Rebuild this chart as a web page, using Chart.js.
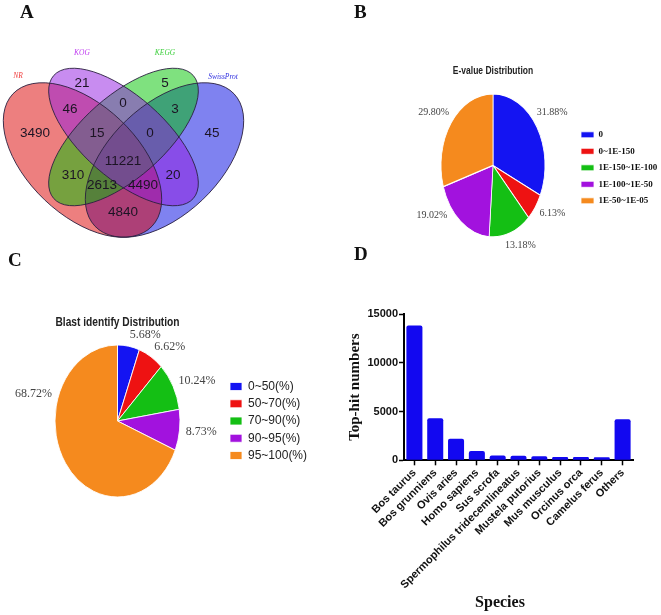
<!DOCTYPE html>
<html>
<head>
<meta charset="utf-8">
<script src="https://cdn.jsdelivr.net/npm/chart.js@4.4.1/dist/chart.umd.min.js"></script>
<style>
body { margin: 0; background: #fff; overflow: hidden; }
#fig { position: relative; width: 661px; height: 615px; overflow: hidden; }
#fig canvas { position: absolute; }
.tag { position: absolute; font: bold 19px "Liberation Serif", "Times New Roman", serif; line-height: 19px; color: #111; }
</style>
</head>
<body>
<div id="fig">
  <canvas id="venn" width="260" height="250" style="left:0;top:0"></canvas>
  <canvas id="evalue" width="360" height="290" style="left:330px;top:0"></canvas>
  <canvas id="ident" width="340" height="270" style="left:0;top:290px"></canvas>
  <canvas id="species" width="340" height="325" style="left:330px;top:290px"></canvas>
  <div class="tag" style="left:20px;top:2px">A</div>
  <div class="tag" style="left:354px;top:2px">B</div>
  <div class="tag" style="left:8px;top:250px">C</div>
  <div class="tag" style="left:354px;top:244px">D</div>
</div>
<script>
// A - annotation overlap
var vennSets = ['NR', 'KOG', 'KEGG', 'SwissProt'];
var vennCounts = [3490, 21, 46, 0, 5, 3, 15, 0, 45, 11221, 310, 20, 2613, 4490, 4840];

// B - E-value distribution (%)
var evLabels = ['0', '0~1E-150', '1E-150~1E-100', '1E-100~1E-50', '1E-50~1E-05'];
var evShare = [31.88, 6.13, 13.18, 19.02, 29.80];

// C - identity distribution (%)
var idLabels = ['0~50(%)', '50~70(%)', '70~90(%)', '90~95(%)', '95~100(%)'];
var idShare = [5.68, 6.62, 10.24, 8.73, 68.72];

// D - top-hit species
var species = ['Bos taurus', 'Bos grunniens', 'Ovis aries', 'Homo sapiens', 'Sus scrofa',
  'Spermophilus tridecemlineatus', 'Mustela putorius', 'Mus musculus', 'Orcinus orca', 'Camelus ferus', 'Others'];
var topHits = [13830, 4310, 2220, 960, 480, 470, 410, 340, 340, 310, 4210];
var hitTicks = [0, 5000, 10000, 15000];

var serif = '"Liberation Serif", "Times New Roman", serif';
var sans = '"Liberation Sans", Arial, sans-serif';
var sliceColors = ['#1414f2', '#ee1212', '#14bf14', '#a212de', '#f58a1e'];

Chart.defaults.font.family = sans;
Chart.defaults.color = '#111';

// venn layout: where each count sits, and the four ellipses (diagram units)
var vennSpots = [[35,133],[82,83],[70,109],[123,103],[165,83],[175,109],[97,133],[150,133],[212,133],
  [123,161],[73,175],[173,175],[102,185],[143,185],[123,212]];
var vennShapes = [
  {cx: 82.5, cy: 160, a: 96, b: 55, rot: 43.6, fill: 'rgba(220,0,0,0.5)', tag: [18,76], color: '#f03a3a'},
  {cx: 123.5, cy: 137, a: 93, b: 41, rot: 41.4, fill: 'rgba(145,25,225,0.5)', tag: [82,53], color: '#c040f0'},
  {cx: 123.5, cy: 137, a: 93, b: 41, rot: -41.4, fill: 'rgba(0,195,0,0.5)', tag: [165,53], color: '#3ccf3c'},
  {cx: 164.5, cy: 160, a: 96, b: 55, rot: -43.6, fill: 'rgba(0,5,225,0.5)', tag: [223,77], color: '#3434e0'}
];
var vennOrder = [3, 0, 2, 1];

var vennPlugin = {
  id: 'venn',
  beforeDatasetsDraw: function(chart) {
    var ctx = chart.ctx, sx = chart.scales.x, sy = chart.scales.y;
    var unit = sx.getPixelForValue(1) - sx.getPixelForValue(0);
    function outline(s) {
      ctx.beginPath();
      ctx.ellipse(sx.getPixelForValue(s.cx), sy.getPixelForValue(s.cy), s.a * unit, s.b * unit,
        s.rot * Math.PI / 180, 0, 2 * Math.PI);
    }
    ctx.save();
    vennOrder.forEach(function(i) {
      outline(vennShapes[i]);
      ctx.fillStyle = vennShapes[i].fill;
      ctx.fill();
    });
    ctx.lineWidth = 0.9;
    ctx.strokeStyle = '#2a2040';
    vennOrder.forEach(function(i) { outline(vennShapes[i]); ctx.stroke(); });
    ctx.font = 'italic 7.5px ' + serif;
    ctx.textAlign = 'center';
    ctx.textBaseline = 'middle';
    vennShapes.forEach(function(s, i) {
      ctx.fillStyle = s.color;
      ctx.fillText(vennSets[i], sx.getPixelForValue(s.tag[0]), sy.getPixelForValue(s.tag[1]));
    });
    ctx.restore();
  },
  afterDatasetsDraw: function(chart) {
    var ctx = chart.ctx, pts = chart.getDatasetMeta(0).data;
    ctx.save();
    ctx.font = '13.5px ' + sans;
    ctx.fillStyle = '#1c1424';
    ctx.textAlign = 'center';
    ctx.textBaseline = 'middle';
    pts.forEach(function(p, i) { ctx.fillText(String(vennCounts[i]), p.x, p.y + 0.5); });
    ctx.restore();
  }
};

new Chart(document.getElementById('venn'), {
  type: 'scatter',
  data: {datasets: [{data: vennSpots.map(function(p) { return {x: p[0], y: p[1]}; }), pointRadius: 0}]},
  options: {
    responsive: false, animation: false, events: [],
    layout: {padding: 0},
    plugins: {legend: {display: false}, tooltip: {enabled: false}},
    scales: {
      x: {type: 'linear', min: 0, max: 260, display: false},
      y: {type: 'linear', min: 0, max: 250, reverse: true, display: false}
    }
  },
  plugins: [vennPlugin]
});

// pies are drawn a bit taller than wide, like the original
var ovalPie = {
  id: 'ovalPie',
  beforeDatasetsDraw: function(chart, args, opts) {
    var arc = chart.getDatasetMeta(0).data[0], ctx = chart.ctx;
    ctx.save();
    ctx.translate(arc.x, arc.y);
    ctx.scale(1, opts.stretch);
    ctx.translate(-arc.x, -arc.y);
  },
  afterDatasetsDraw: function(chart, args, opts) {
    var ctx = chart.ctx, meta = chart.getDatasetMeta(0), vals = chart.data.datasets[0].data;
    ctx.restore();
    ctx.save();
    ctx.font = opts.font;
    ctx.fillStyle = opts.color;
    ctx.textBaseline = 'middle';
    meta.data.forEach(function(arc, i) {
      var mid = (arc.startAngle + arc.endAngle) / 2;
      if (opts.angles && opts.angles[i] != null) mid = opts.angles[i] * Math.PI / 180;
      var c = Math.cos(mid), s = Math.sin(mid), r = arc.outerRadius;
      ctx.textAlign = c > 0.1 ? 'left' : (c < -0.1 ? 'right' : 'center');
      ctx.fillText(vals[i].toFixed(2) + '%', arc.x + c * r * opts.fx, arc.y + s * r * opts.stretch * opts.fy);
    });
    ctx.restore();
  },
  // the titles in the original use a condensed face; squeeze the title text in place
  afterDraw: function(chart, args, opts) {
    var t = chart.titleBlock, ctx = chart.ctx;
    var f = Chart.helpers.toFont(t.options.font);
    ctx.save();
    ctx.font = f.string;
    ctx.fillStyle = opts.titleColor;
    ctx.textAlign = 'center';
    ctx.textBaseline = 'middle';
    ctx.translate((t.left + t.right) / 2, t.top + f.lineHeight / 2);
    ctx.scale(opts.squeeze, 1);
    ctx.fillText(t.options.text, 0, 0);
    ctx.restore();
  }
};

function widest(font, list) {
  var c = document.createElement('canvas').getContext('2d');
  c.font = font;
  return Math.max.apply(null, list.map(function(t) { return c.measureText(t).width; }));
}

var evT = widest('bold 9px ' + serif, evLabels);
new Chart(document.getElementById('evalue'), {
  type: 'pie',
  data: {
    labels: evLabels,
    datasets: [{data: evShare, backgroundColor: sliceColors, borderColor: '#fff', borderWidth: 0.8, radius: 52}]
  },
  options: {
    responsive: false, animation: false, events: [],
    radius: 52,
    layout: {padding: {left: 82.5, top: 65.5, bottom: 36.7, right: 81.5 - evT}},
    plugins: {
      title: {display: true, text: 'E-value Distribution', fullSize: false, padding: 0, color: 'rgba(0,0,0,0)',
        font: {family: sans, size: 10, weight: 'bold'}},
      legend: {position: 'right', fullSize: false,
        title: {display: true, text: '', padding: 0, font: {size: 4}},
        labels: {boxWidth: 13, boxHeight: 6, padding: 7.5, color: '#111', font: {family: serif, size: 9, weight: 'bold'}}},
      tooltip: {enabled: false},
      ovalPie: {stretch: 1.375, fx: 1.1, fy: 1.15, font: '10px ' + serif, color: '#444',
        angles: [-40, null, 78, 143, -140], squeeze: 0.85, titleColor: '#222'}
    }
  },
  plugins: [ovalPie]
});

var idT = widest('12px ' + sans, idLabels);
new Chart(document.getElementById('ident'), {
  type: 'pie',
  data: {
    labels: idLabels,
    datasets: [{data: idShare, backgroundColor: sliceColors, borderColor: '#fff', borderWidth: 0.8, radius: 62.5}]
  },
  options: {
    responsive: false, animation: false, events: [],
    radius: 62.5,
    layout: {padding: {left: 10.25, top: 25.8, bottom: 48.2, right: 340 - 258 - idT}},
    plugins: {
      title: {display: true, text: 'Blast identify Distribution', fullSize: false, padding: 0, color: 'rgba(0,0,0,0)',
        font: {family: sans, size: 12, weight: 'bold'}},
      legend: {position: 'right', fullSize: false,
        labels: {boxWidth: 12, boxHeight: 8, padding: 5.25, color: '#222', font: {family: sans, size: 12}}},
      tooltip: {enabled: false},
      ovalPie: {stretch: 1.216, fx: 1.1, fy: 1.15, font: '12px ' + serif, color: '#444',
        angles: [null, null, null, null, 198], squeeze: 0.85, titleColor: '#222'}
    }
  },
  plugins: [ovalPie]
});

new Chart(document.getElementById('species'), {
  type: 'bar',
  data: {
    labels: species,
    datasets: [{data: topHits, backgroundColor: '#1208f0', borderRadius: 2, barPercentage: 0.77, categoryPercentage: 1}]
  },
  options: {
    responsive: false, animation: false, events: [],
    layout: {padding: {left: 0, right: 0, top: 24, bottom: 0}},
    plugins: {
      legend: {display: false},
      tooltip: {enabled: false},
      title: {display: true, text: 'Species', position: 'bottom', color: '#111', padding: {top: 4, bottom: 3},
        font: {family: serif, size: 16, weight: 'bold'}}
    },
    scales: {
      x: {
        offset: true,
        border: {color: '#000', width: 2},
        grid: {drawOnChartArea: false, offset: false, tickLength: 5, tickColor: '#000', tickWidth: 1.5},
        ticks: {autoSkip: false, maxRotation: 45, minRotation: 45, padding: 1, color: '#111', font: {size: 11, weight: 'bold'}},
        afterFit: function(scale) { scale.height = 128.5; scale.paddingRight = 37; }
      },
      y: {
        min: hitTicks[0], max: hitTicks[hitTicks.length - 1],
        border: {color: '#000', width: 2},
        grid: {drawOnChartArea: false, tickLength: 5, tickColor: '#000', tickWidth: 1.5},
        ticks: {stepSize: hitTicks[1] - hitTicks[0], padding: 1, color: '#111', font: {size: 11, weight: 'bold'},
          callback: function(v) { return String(v); }},
        title: {display: true, text: 'Top-hit numbers', color: '#111', padding: {top: 16, bottom: 0},
          font: {family: serif, size: 15, weight: 'bold'}},
        afterFit: function(scale) { scale.width = 74; }
      }
    }
  }
});
</script>
</body>
</html>
